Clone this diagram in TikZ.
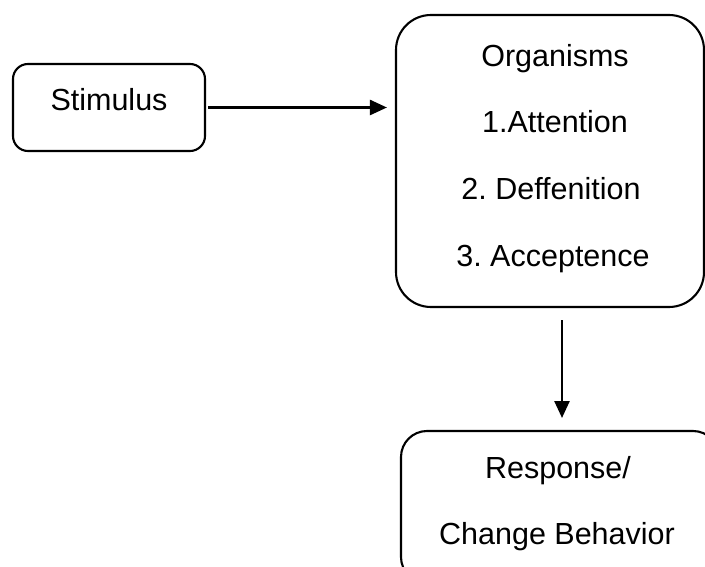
\documentclass[tikz,border=0pt]{standalone}
\usepackage{fontspec}
\setmainfont{Liberation Sans}
\frenchspacing
\usetikzlibrary{arrows.meta}
\begin{document}
\begin{tikzpicture}[x=1pt,y=-1pt,
  box/.style={draw=black,line width=2.1pt,rounded corners=#1,inner sep=0pt,fill=none},
  lbl/.style={anchor=base,inner sep=0pt,font=\fontsize{30.5}{36}\selectfont},
  conn/.style={line width=2.5pt,-{Triangle[length=17pt,width=15pt]}}]
\clip (0,0) rectangle (705,567);
\fill[white] (0,0) rectangle (705,567);
\node[box=15pt,minimum width=192pt,minimum height=87pt] (stim) at (109,107.5) {};
\node[box=35pt,minimum width=308pt,minimum height=292pt] (org) at (550,161) {};
\node[box=26pt,minimum width=318pt,minimum height=152pt] (resp) at (560,507) {};
\node[lbl] (tstim) at (109,111) {Stimulus};
\node[lbl] (t0) at (555,66.5) {Organisms};
\node[lbl] (t1) at (555,133) {1.Attention};
\node[lbl] (t2) at (551,200) {2. Deffenition};
\node[lbl] (t3) at (553,266) {3. Acceptence};
\node[lbl] (t4) at (558,478) {Response/};
\node[lbl] (t5) at (557,544) {Change Behavior};
\draw[conn,shorten <=2pt,shorten >=8pt] (stim.east) -- (stim.east -| org.west);
\coordinate (a2s) at (562,307);
\coordinate (a2e) at (562,431);
\draw[conn,shorten <=13pt,shorten >=13pt] (a2s) -- (a2e);
\end{tikzpicture}
\end{document}
